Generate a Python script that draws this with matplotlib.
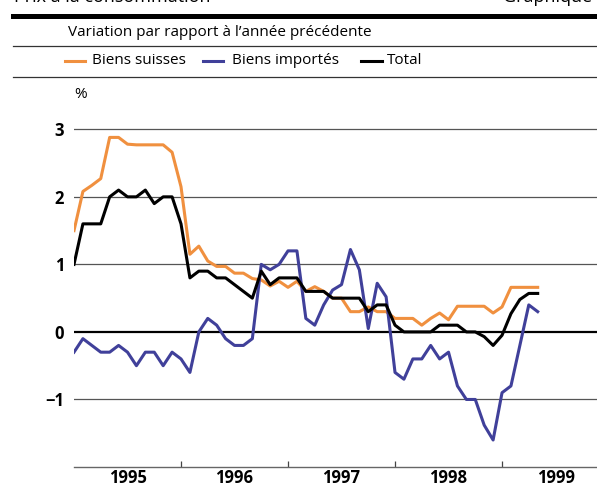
import numpy as np
import matplotlib.pyplot as plt
from matplotlib.lines import Line2D

plt.rcParams['font.family'] = ['Open Sans', 'DejaVu Sans']

# Variation mensuelle, janvier 1995 - mai 1999
biens_suisses = [1.5, 2.08, 2.17, 2.27, 2.88, 2.88, 2.78, 2.77, 2.77, 2.77, 2.77, 2.66,
                 2.15, 1.15, 1.27, 1.05, 0.97, 0.97, 0.87, 0.87, 0.79, 0.77, 0.68, 0.75,
                 0.66, 0.75, 0.6, 0.67, 0.6, 0.5, 0.5, 0.3, 0.3, 0.37, 0.3, 0.3,
                 0.2, 0.2, 0.2, 0.1, 0.2, 0.28, 0.18, 0.38, 0.38, 0.38, 0.38, 0.28,
                 0.37, 0.66, 0.66, 0.66, 0.66]
biens_importes = [-0.3, -0.1, -0.2, -0.3, -0.3, -0.2, -0.3, -0.5, -0.3, -0.3, -0.5, -0.3,
                  -0.4, -0.6, 0.0, 0.2, 0.1, -0.1, -0.2, -0.2, -0.1, 1.0, 0.92, 1.0,
                  1.2, 1.2, 0.2, 0.1, 0.4, 0.62, 0.7, 1.22, 0.92, 0.05, 0.72, 0.52,
                  -0.6, -0.7, -0.4, -0.4, -0.2, -0.4, -0.3, -0.8, -1.0, -1.0, -1.38, -1.6,
                  -0.9, -0.8, -0.2, 0.4, 0.3]
total = [1.0, 1.6, 1.6, 1.6, 2.0, 2.1, 2.0, 2.0, 2.1, 1.9, 2.0, 2.0,
         1.6, 0.8, 0.9, 0.9, 0.8, 0.8, 0.7, 0.6, 0.5, 0.9, 0.7, 0.8,
         0.8, 0.8, 0.6, 0.6, 0.6, 0.5, 0.5, 0.5, 0.5, 0.3, 0.4, 0.4,
         0.1, 0.0, 0.0, 0.0, 0.0, 0.1, 0.1, 0.1, 0.0, 0.0, -0.07, -0.2,
         -0.05, 0.27, 0.48, 0.57, 0.57]
annees = ['1995', '1996', '1997', '1998', '1999']

orange = '#f0903f'
bleu = '#40409a'

W, H = 597, 488
fig = plt.figure(figsize=(W / 100, H / 100), dpi=100)

def fx(px):
    return px / W

def fy(py):
    return 1 - py / H

ax = fig.add_axes([fx(74), fy(467), fx(597) - fx(74), fy(80) - fy(467)])

mois = np.arange(len(total))
ax.plot(mois, biens_suisses, color=orange, lw=2.2, zorder=3)
ax.plot(mois, biens_importes, color=bleu, lw=2.2, zorder=3)
ax.plot(mois, total, color='black', lw=2.2, zorder=4)

for v in [3, 2, 1, -1]:
    ax.axhline(v, color='#555555', lw=0.9, zorder=1)
ax.axhline(0, color='black', lw=1.6, zorder=2)

ax.set_xlim(0, 58.65)
ax.set_ylim(-2, 3.73)
for s in ['top', 'right', 'left']:
    ax.spines[s].set_visible(False)
ax.spines['bottom'].set_color('#666666')
ax.spines['bottom'].set_linewidth(1.0)

ax.set_yticks([3, 2, 1, 0, -1])
ax.set_yticklabels(['3', '2', '1', '0', '\u22121'], fontsize=12, fontweight='bold')
ax.tick_params(axis='y', length=0, pad=7)

ax.set_xticks([12, 24, 36, 48])
ax.set_xticklabels([])
ax.tick_params(axis='x', direction='in', length=4.3, width=0.9, color='#444444')
for i, a in enumerate(annees):
    ax.text(6 + 12 * i, -2.0 - 11.5 / 67.7, a, ha='center', va='center',
            fontsize=12, fontweight='bold')

# en-tête
fig.text(fx(14), fy(2.5), 'Prix à la consommation', fontsize=13, va='baseline')
fig.text(fx(503), fy(2.5), 'Graphique 2.', fontsize=13, va='baseline')
fig.add_artist(Line2D([fx(13), 1], [fy(16), fy(16)], color='black', lw=3.6))
fig.text(fx(68), fy(33), 'Variation par rapport à l\u2019année précédente', fontsize=11, va='center')
fig.add_artist(Line2D([fx(13), 1], [fy(46), fy(46)], color='#333333', lw=0.9))
fig.add_artist(Line2D([fx(13), 1], [fy(77), fy(77)], color='#333333', lw=0.9))

# légende
for x0, x1, xt, c, lab in [(65, 85, 92, orange, 'Biens suisses'),
                           (203, 223, 232, bleu, 'Biens importés'),
                           (361, 382, 387, 'black', 'Total')]:
    fig.add_artist(Line2D([fx(x0), fx(x1)], [fy(61), fy(61)], color=c, lw=2.2))
    fig.text(fx(xt), fy(61), lab, fontsize=11, va='center')

fig.text(fx(74), fy(94), '%', fontsize=11, va='center')

fig.savefig('out.png', dpi=100)
